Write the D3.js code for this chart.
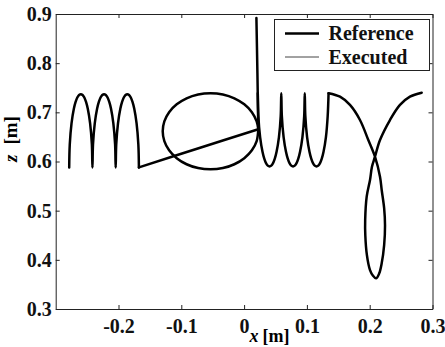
<!DOCTYPE html>
<html>
<head>
<meta charset="utf-8">
<script src="https://cdn.jsdelivr.net/npm/d3@7/dist/d3.min.js"></script>
<style>
  body { margin: 0; background: #fff; }
  svg text { font-family: "Liberation Serif", "Times New Roman", serif; }
</style>
</head>
<body>
<div id="viz"></div>
<script>
// tick values and labels
const xTicks = [-0.2, -0.1, 0, 0.1, 0.2, 0.3];
const xTickLabels = ['-0.2', '-0.1', '0', '0.1', '0.2', '0.3'];
const zTicks = [0.3, 0.4, 0.5, 0.6, 0.7, 0.8, 0.9];
const zTickLabels = ['0.3', '0.4', '0.5', '0.6', '0.7', '0.8', '0.9'];
const legendLabels = ['Reference', 'Executed'];

// reference trajectory, [x, z] in metres
// the three arches of the "m"
const archesM = [
  [-0.2785, 0.588], [-0.2776, 0.6345], [-0.2748, 0.6774], [-0.2711, 0.7072], [-0.2683, 0.7211],
  [-0.2656, 0.7301], [-0.2628, 0.7354], [-0.2600, 0.737], [-0.2572, 0.7354], [-0.2544, 0.7301],
  [-0.2517, 0.7211], [-0.2489, 0.7072], [-0.2452, 0.6774], [-0.2424, 0.6345], [-0.2415, 0.588],
  [-0.2406, 0.6345], [-0.2378, 0.6774], [-0.2341, 0.7072], [-0.2313, 0.7211], [-0.2286, 0.7301],
  [-0.2258, 0.7354], [-0.2230, 0.737], [-0.2202, 0.7354], [-0.2174, 0.7301], [-0.2147, 0.7211],
  [-0.2119, 0.7072], [-0.2082, 0.6774], [-0.2054, 0.6345], [-0.2045, 0.588],
  [-0.2036, 0.6345], [-0.2008, 0.6774], [-0.1971, 0.7072], [-0.1943, 0.7211], [-0.1916, 0.7301],
  [-0.1888, 0.7354], [-0.1860, 0.737], [-0.1832, 0.7354], [-0.1804, 0.7301], [-0.1777, 0.7211],
  [-0.1749, 0.7072], [-0.1712, 0.6774], [-0.1684, 0.6345], [-0.1675, 0.588]
];
// straight stroke over to the "o"
const connector = [[-0.1675, 0.588], [-0.0700, 0.628], [0.0226, 0.6655]];
// the "o" loop
const loopO = [
  [0.0226, 0.6655], [0.0200, 0.6816], [0.0124, 0.7003], [0.0003, 0.7163], [-0.0155, 0.7286],
  [-0.0338, 0.7364], [-0.0535, 0.7390], [-0.0732, 0.7364], [-0.0916, 0.7286], [-0.1073, 0.7163],
  [-0.1194, 0.7003], [-0.1270, 0.6816], [-0.1296, 0.6615], [-0.1270, 0.6414], [-0.1194, 0.6228],
  [-0.1073, 0.6067], [-0.0916, 0.5944], [-0.0732, 0.5866], [-0.0535, 0.5840], [-0.0338, 0.5866],
  [-0.0155, 0.5944], [0.0003, 0.6067], [0.0124, 0.6228], [0.0200, 0.6414], [0.0226, 0.6655]
];
// the stem of the "d"
const stemD = [[0.0226, 0.6655], [0.0212, 0.780], [0.0196, 0.892]];
// the three cups of the "w"
const cupsW = [
  [0.0218, 0.739], [0.0227, 0.6925], [0.0255, 0.6496], [0.0293, 0.6198], [0.0321, 0.6059],
  [0.0349, 0.5968], [0.0377, 0.5916], [0.0405, 0.590], [0.0433, 0.5916], [0.0461, 0.5968],
  [0.0489, 0.6059], [0.0517, 0.6198], [0.0555, 0.6496], [0.0583, 0.6925], [0.0592, 0.739],
  [0.0601, 0.6925], [0.0629, 0.6496], [0.0667, 0.6198], [0.0695, 0.6059], [0.0723, 0.5968],
  [0.0751, 0.5916], [0.0779, 0.590], [0.0807, 0.5916], [0.0835, 0.5968], [0.0863, 0.6059],
  [0.0891, 0.6198], [0.0929, 0.6496], [0.0957, 0.6925], [0.0966, 0.739],
  [0.0975, 0.6925], [0.1003, 0.6496], [0.1041, 0.6198], [0.1069, 0.6059], [0.1097, 0.5968],
  [0.1125, 0.5916], [0.1153, 0.590], [0.1181, 0.5916], [0.1209, 0.5968], [0.1237, 0.6059],
  [0.1265, 0.6198], [0.1303, 0.6496], [0.1331, 0.6925], [0.1345, 0.739]
];
// the "y" with its lower loop
const tailY = [
  [0.1345, 0.739], [0.1527, 0.7318], [0.1686, 0.715], [0.1845, 0.6844], [0.1978, 0.6437],
  [0.2084, 0.6098], [0.2164, 0.5691], [0.2191, 0.542], [0.2230, 0.505], [0.2244, 0.470],
  [0.2230, 0.430], [0.2191, 0.393], [0.2150, 0.372], [0.2100, 0.3625], [0.2050, 0.368],
  [0.2005, 0.379], [0.1955, 0.410], [0.1930, 0.450], [0.1928, 0.481], [0.1952, 0.5284],
  [0.2005, 0.5624], [0.2036, 0.5894], [0.2084, 0.6098], [0.2164, 0.6437], [0.2323, 0.6844],
  [0.2482, 0.715], [0.2641, 0.7318], [0.2828, 0.740]
];
const pieces = [archesM, connector, loopO, stemD, cupsW, tailY];

const width = 445, height = 347;
const plotLeft = 55.7, plotRight = 432.5, plotTop = 14, plotBottom = 309;

const svg = d3.select('#viz')
  .append('svg')
  .attr('width', width)
  .attr('height', height);

const x = d3.scaleLinear().domain([-0.3, 0.3]).range([plotLeft, plotRight]);
const z = d3.scaleLinear().domain([0.3, 0.9]).range([plotBottom, plotTop]);

// axes on all four sides, ticks pointing inward
function styleAxis(g) {
  g.attr('font-family', '"Liberation Serif", "Times New Roman", serif')
    .attr('font-size', 20)
    .attr('font-weight', 'bold');
  g.selectAll('path, line').attr('stroke', '#222').attr('stroke-width', 1);
  g.selectAll('text').attr('fill', '#111');
}

svg.append('g')
  .attr('transform', `translate(0,${plotBottom})`)
  .call(d3.axisBottom(x).tickValues(xTicks).tickFormat((d, i) => xTickLabels[i])
    .tickSizeInner(-4).tickSizeOuter(0).tickPadding(9.5))
  .call(styleAxis);

svg.append('g')
  .attr('transform', `translate(0,${plotTop})`)
  .call(d3.axisTop(x).tickValues(xTicks).tickFormat('').tickSizeInner(-4).tickSizeOuter(0))
  .call(styleAxis);

svg.append('g')
  .attr('transform', `translate(${plotLeft},0)`)
  .call(d3.axisLeft(z).tickValues(zTicks).tickFormat((d, i) => zTickLabels[i])
    .tickSizeInner(-4).tickSizeOuter(0).tickPadding(4))
  .call(styleAxis);

svg.append('g')
  .attr('transform', `translate(${plotRight},0)`)
  .call(d3.axisRight(z).tickValues(zTicks).tickFormat('').tickSizeInner(-4).tickSizeOuter(0))
  .call(styleAxis);

// axis titles
const xTitle = svg.append('text')
  .attr('x', 249.5)
  .attr('y', 341.5)
  .attr('font-size', 18)
  .attr('font-weight', 'bold');
xTitle.append('tspan').attr('font-style', 'italic').text('x');
xTitle.append('tspan').attr('dx', 4).text('[m]');

const zTitle = svg.append('text')
  .attr('transform', 'translate(17,162) rotate(-90)')
  .attr('font-size', 19)
  .attr('font-weight', 'bold');
zTitle.append('tspan').attr('font-style', 'italic').text('z');
zTitle.append('tspan').attr('dx', 10).text('[m]');

// the trajectory
const line = d3.line()
  .x(d => x(d[0]))
  .y(d => z(d[1]))
  .curve(d3.curveCatmullRom.alpha(0.5));

svg.append('g')
  .selectAll('path')
  .data(pieces)
  .enter()
  .append('path')
  .attr('d', line)
  .attr('fill', 'none')
  .attr('stroke', '#000')
  .attr('stroke-width', 2.5)
  .attr('stroke-linejoin', 'round')
  .attr('stroke-linecap', 'round');

// legend
const legend = svg.append('g');
legend.append('rect')
  .attr('x', 274.5).attr('y', 19.5)
  .attr('width', 155).attr('height', 51)
  .attr('fill', '#fff')
  .attr('stroke', '#222')
  .attr('stroke-width', 1);

const legendStyles = [
  { w: 2.5, c: '#000' },
  { w: 1, c: '#444' }
];
legendLabels.forEach((label, i) => {
  const cy = 33.5 + i * 23.5;
  legend.append('line')
    .attr('x1', 285).attr('x2', 319)
    .attr('y1', cy).attr('y2', cy)
    .attr('stroke', legendStyles[i].c)
    .attr('stroke-width', legendStyles[i].w);
  legend.append('text')
    .attr('x', 328.5)
    .attr('y', cy + 6.5)
    .attr('font-size', 20)
    .attr('font-weight', 'bold')
    .attr('fill', '#111')
    .text(label);
});
</script>
</body>
</html>
